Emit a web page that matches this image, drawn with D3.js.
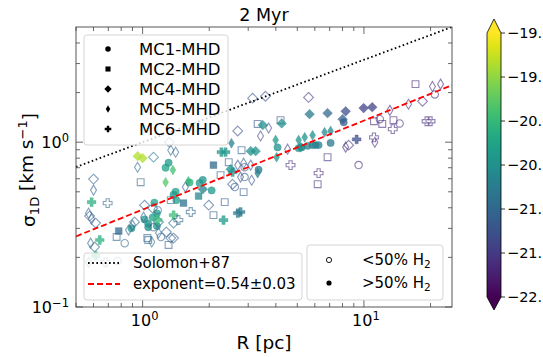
<!DOCTYPE html>
<html>
<head>
<meta charset="utf-8">
<script src="https://cdn.jsdelivr.net/npm/d3@7"></script>
<style>
  body { margin: 0; background: #fff; }
  svg { display: block; font-family: "DejaVu Sans", sans-serif; }
</style>
</head>
<body>
<script>
// [R (pc), sigma_1D (km/s), log density, >50% H2 (1) or not (0)]
const mc1 = [
  [1.27, 0.70, -20.3, 1], [1.31, 0.75, -20.4, 1], [1.41, 0.50, -20.3, 1], [1.38, 0.48, -20.4, 1],
  [1.42, 0.445, -20.3, 1], [1.87, 0.59, -20.5, 1], [1.81, 0.565, -20.4, 1], [2.05, 0.51, -20.4, 1],
  [1.63, 0.57, -20.1, 1], [1.13, 0.43, -20.3, 1], [1.16, 0.37, -20.3, 1], [0.89, 0.30, -20.4, 1],
  [1.02, 0.34, -20.4, 1], [1.06, 0.32, -20.5, 1], [1.11, 0.35, -20.3, 1], [1.16, 0.31, -20.4, 1],
  [1.06, 0.305, -20.5, 1], [3.34, 0.68, -20.8, 1], [8.10, 1.32, -21.1, 1], [4.07, 0.93, -20.5, 1],
  [5.07, 0.92, -20.5, 1], [5.23, 0.93, -20.6, 1], [5.57, 0.95, -20.7, 1], [5.86, 0.96, -20.7, 1],
  [6.05, 0.96, -20.7, 1], [6.24, 0.96, -20.7, 1], [7.07, 0.99, -20.8, 1],
  [0.83, 0.244, -21.0, 0], [1.17, 0.387, -21.0, 0], [1.12, 0.305, -21.0, 0], [1.21, 0.266, -21.1, 0],
  [2.89, 0.705, -21.2, 0], [2.89, 0.614, -21.2, 0], [2.61, 0.534, -21.1, 0], [9.46, 0.726, -21.6, 0],
  [11.8, 1.38, -21.6, 0], [14.5, 1.30, -21.6, 0], [20.9, 1.95, -21.6, 0], [0.77, 0.19, -20.9, 0]
];
const mc2 = [
  [2.09, 0.726, -21.0, 1], [1.53, 0.427, -20.9, 1], [0.78, 0.289, -21.0, 1], [1.79, 0.471, -20.6, 1],
  [0.98, 0.572, -21.0, 0], [0.763, 0.266, -21.0, 0], [1.06, 0.255, -21.0, 0], [1.31, 0.238, -21.1, 0],
  [2.45, 0.756, -21.1, 0], [2.80, 0.894, -21.1, 0], [2.25, 0.631, -21.1, 0], [2.86, 0.498, -21.1, 0],
  [2.35, 0.433, -21.1, 0], [2.09, 0.361, -21.1, 0], [3.31, 1.29, -21.2, 0], [4.20, 1.36, -21.2, 0],
  [6.85, 0.811, -21.5, 0], [6.18, 0.556, -21.5, 0], [11.1, 1.34, -21.6, 0], [12.1, 1.29, -21.6, 0],
  [13.6, 1.36, -21.6, 0], [17.1, 2.25, -21.6, 0], [1.34, 0.445, -21.0, 0], [1.05, 0.262, -21.0, 0]
];
const mc4 = [
  [0.95, 0.823, -19.35, 1], [1.0, 0.80, -19.35, 1], [2.50, 0.686, -20.5, 1], [1.87, 0.519, -20.7, 1],
  [3.08, 0.882, -20.5, 1], [3.24, 0.882, -20.5, 1], [3.49, 1.27, -20.5, 1], [4.25, 1.30, -20.5, 1],
  [5.18, 0.933, -20.5, 1], [5.68, 1.48, -20.8, 1], [6.85, 1.50, -21.0, 1], [8.27, 1.54, -21.3, 1],
  [8.01, 1.38, -21.1, 1], [9.97, 1.61, -21.4, 1], [10.9, 1.63, -21.4, 1],
  [1.12, 0.811, -20.8, 0], [1.32, 1.0, -21.0, 0], [0.60, 0.597, -21.1, 0], [0.576, 0.356, -21.1, 0],
  [0.613, 0.323, -21.1, 0], [1.02, 0.415, -21.0, 0], [1.11, 0.398, -21.0, 0], [0.92, 0.328, -21.0, 0],
  [1.18, 0.328, -21.0, 0], [1.28, 0.285, -21.0, 0], [1.38, 0.262, -21.1, 0], [1.38, 0.323, -21.0, 0],
  [1.99, 0.415, -21.1, 0], [2.55, 0.556, -21.1, 0], [2.69, 1.17, -21.3, 0], [3.14, 1.85, -21.2, 0],
  [3.59, 1.90, -21.3, 0], [5.62, 1.87, -21.5, 0], [8.53, 0.959, -21.6, 0], [18.4, 1.77, -21.6, 0],
  [1.34, 0.262, -21.0, 0], [0.607, 0.231, -21.0, 0]
];
const mc5 = [
  [1.27, 0.572, -19.8, 1], [1.37, 0.677, -19.9, 1], [1.61, 0.58, -20.0, 1], [2.52, 0.986, -20.7, 1],
  [3.31, 0.649, -20.7, 1], [3.99, 1.03, -20.4, 1], [4.03, 0.811, -20.4, 1], [5.07, 1.03, -20.5, 1],
  [5.40, 1.07, -20.5, 1], [5.86, 1.10, -20.5, 1], [6.64, 1.15, -20.6, 1], [7.07, 1.17, -20.6, 1],
  [0.949, 0.705, -21.0, 0], [1.34, 0.894, -21.0, 0], [1.41, 0.870, -21.0, 0], [0.60, 0.512, -21.1, 0],
  [0.570, 0.371, -21.1, 0], [0.588, 0.342, -21.1, 0], [0.864, 0.293, -21.0, 0], [0.90, 0.314, -21.0, 0],
  [1.01, 0.351, -21.0, 0], [1.18, 0.281, -21.0, 0], [1.10, 0.248, -21.0, 0], [0.582, 0.244, -21.0, 0],
  [1.56, 0.534, -21.1, 0], [2.69, 0.726, -21.2, 0], [2.86, 0.746, -21.2, 0], [3.08, 0.726, -21.2, 0],
  [2.77, 0.614, -21.2, 0], [3.11, 0.588, -21.2, 0], [3.41, 1.09, -21.4, 0], [3.71, 1.22, -21.4, 0],
  [4.52, 0.907, -21.5, 0], [8.27, 0.933, -21.6, 0], [11.2, 1.0, -21.6, 0], [13.1, 1.56, -21.6, 0],
  [15.9, 1.70, -21.6, 0], [20.4, 2.18, -21.6, 0], [22.2, 2.25, -21.6, 0], [0.570, 0.187, -20.9, 0]
];
const mc6 = [
  [0.588, 0.433, -20.1, 1], [0.64, 0.255, -20.1, 1], [1.38, 0.361, -19.95, 1], [1.17, 0.337, -20.0, 1],
  [2.27, 0.870, -20.4, 1], [2.37, 0.870, -20.4, 1], [2.55, 0.658, -20.5, 1], [2.69, 0.371, -20.8, 1],
  [2.77, 0.377, -20.8, 1], [2.32, 0.337, -20.4, 1], [9.27, 1.04, -21.3, 1], [0.613, 0.204, -20.0, 1],
  [0.695, 0.427, -21.0, 0], [1.65, 0.377, -21.0, 0], [1.45, 0.337, -21.0, 0], [4.66, 0.726, -21.6, 0],
  [6.24, 0.649, -21.6, 0], [11.1, 1.07, -21.6, 0], [13.5, 1.20, -21.6, 0], [19.2, 1.34, -21.6, 0],
  [20.0, 1.34, -21.6, 0], [0.68, 0.187, -21.0, 0]
];

const clouds = [
  { name: "MC1-MHD", shape: "o", points: mc1 },
  { name: "MC2-MHD", shape: "s", points: mc2 },
  { name: "MC4-MHD", shape: "D", points: mc4 },
  { name: "MC5-MHD", shape: "d", points: mc5 },
  { name: "MC6-MHD", shape: "P", points: mc6 },
];

// power laws sigma = coef * R^exp
const solomon = { coef: 1.0, exp: 0.5 };
const fit = { coef: 0.39, exp: 0.54 };

const xDomain = [0.5, 25], yDomain = [0.1, 5], cDomain = [-22, -19];
const xMajor = [1, 10], xMinor = [0.5, 0.6, 0.7, 0.8, 0.9, 2, 3, 4, 5, 6, 7, 8, 9, 20];
const yMajor = [0.1, 1], yMinor = [0.2, 0.3, 0.4, 0.5, 0.6, 0.7, 0.8, 0.9, 2, 3, 4];
const cTicks = [-22, -21.5, -21, -20.5, -20, -19.5, -19];

const baseWidth = 543, baseHeight = 357;
const plot = { left: 76, right: 452, top: 27, bottom: 307 };

const x = d3.scaleLog().domain(xDomain).range([plot.left, plot.right]);
const y = d3.scaleLog().domain(yDomain).range([plot.bottom, plot.top]);
const color = d3.scaleSequential(d3.interpolateViridis).domain(cDomain);

const svg = d3.select("body").append("svg")
  .attr("width", baseWidth).attr("height", baseHeight);

svg.append("defs").append("clipPath").attr("id", "clip")
  .append("rect")
  .attr("x", plot.left).attr("y", plot.top)
  .attr("width", plot.right - plot.left).attr("height", plot.bottom - plot.top);

function shape(type, k) {
  k = k || 1;
  const p = d3.path();
  if (type === "o") {
    const r = 3.7 * k;
    p.moveTo(r, 0); p.arc(0, 0, r, 0, 2 * Math.PI);
  } else if (type === "s") {
    const h = 3.4 * k;
    p.rect(-h, -h, 2 * h, 2 * h);
  } else if (type === "D") {
    const r = 4.9 * k;
    p.moveTo(0, -r); p.lineTo(r, 0); p.lineTo(0, r); p.lineTo(-r, 0); p.closePath();
  } else if (type === "d") {
    const r = 5 * k, w = r * 0.6;
    p.moveTo(0, -r); p.lineTo(w, 0); p.lineTo(0, r); p.lineTo(-w, 0); p.closePath();
  } else if (type === "P") {
    const a = 4.4 * k, b = 1.6 * k;
    p.moveTo(-b, -a); p.lineTo(b, -a); p.lineTo(b, -b); p.lineTo(a, -b); p.lineTo(a, b);
    p.lineTo(b, b); p.lineTo(b, a); p.lineTo(-b, a); p.lineTo(-b, b); p.lineTo(-a, b);
    p.lineTo(-a, -b); p.lineTo(-b, -b); p.closePath();
  }
  return p.toString();
}

// scatter points
const pts = svg.append("g").attr("clip-path", "url(#clip)");
clouds.forEach((c) => {
  pts.selectAll(null).data(c.points).enter()
    .append("path")
    .attr("d", shape(c.shape))
    .attr("transform", (d) => `translate(${x(d[0])},${y(d[1])})`)
    .attr("fill", (d) => (d[3] ? color(d[2]) : "none"))
    .attr("fill-opacity", 0.75)
    .attr("stroke", (d) => color(d[2]))
    .attr("stroke-opacity", (d) => (d[3] ? 0.5 : 0.6))
    .attr("stroke-width", (d) => (d[3] ? 0.6 : 1.1));
});

// power-law lines
function lawLine(law) {
  return xDomain.map((r) => [x(r), y(law.coef * Math.pow(r, law.exp))]);
}
pts.append("path")
  .attr("d", d3.line()(lawLine(solomon)))
  .attr("fill", "none").attr("stroke", "#000").attr("stroke-width", 1.8)
  .attr("stroke-dasharray", "1.6,2.6");
pts.append("path")
  .attr("d", d3.line()(lawLine(fit)))
  .attr("fill", "none").attr("stroke", "#ff0000").attr("stroke-width", 1.8)
  .attr("stroke-dasharray", "6,3");

// frame and ticks (inward on all four sides)
svg.append("rect")
  .attr("x", plot.left).attr("y", plot.top)
  .attr("width", plot.right - plot.left).attr("height", plot.bottom - plot.top)
  .attr("fill", "none").attr("stroke", "#444").attr("stroke-width", 0.9);

const ticks = svg.append("g").attr("stroke", "#444").attr("stroke-width", 0.8);
function xTicks(vals, len) {
  vals.forEach((v) => {
    ticks.append("line").attr("x1", x(v)).attr("x2", x(v)).attr("y1", plot.bottom).attr("y2", plot.bottom - len);
    ticks.append("line").attr("x1", x(v)).attr("x2", x(v)).attr("y1", plot.top).attr("y2", plot.top + len);
  });
}
function yTicks(vals, len) {
  vals.forEach((v) => {
    ticks.append("line").attr("y1", y(v)).attr("y2", y(v)).attr("x1", plot.left).attr("x2", plot.left + len);
    ticks.append("line").attr("y1", y(v)).attr("y2", y(v)).attr("x1", plot.right).attr("x2", plot.right - len);
  });
}
xTicks(xMajor, 7); xTicks(xMinor, 4);
yTicks(yMajor, 7); yTicks(yMinor, 4);

function powLabel(sel, v) {
  const e = Math.round(Math.log10(v));
  sel.append("tspan").text("10");
  sel.append("tspan").attr("dy", "-0.55em").style("font-size", "11.5px")
    .text(String(e).replace("-", "\u2212"));
}
xMajor.forEach((v) => {
  svg.append("text").attr("x", x(v) + 2).attr("y", 326).attr("text-anchor", "middle")
    .style("font-size", "16px").call(powLabel, v);
});
yMajor.forEach((v) => {
  svg.append("text").attr("x", 69).attr("y", y(v) + 6).attr("text-anchor", "end")
    .style("font-size", "16px").call(powLabel, v);
});

// titles
svg.append("text").attr("x", (plot.left + plot.right) / 2).attr("y", 21)
  .attr("text-anchor", "middle").style("font-size", "17.5px").text("2 Myr");
svg.append("text").attr("x", (plot.left + plot.right) / 2).attr("y", 349)
  .attr("text-anchor", "middle").style("font-size", "18.5px").text("R [pc]");
const yl = svg.append("text")
  .attr("transform", `translate(35,${(plot.top + plot.bottom) / 2 + 3}) rotate(-90)`)
  .attr("text-anchor", "middle").style("font-size", "18.5px");
yl.append("tspan").text("\u03c3");
yl.append("tspan").attr("dy", "0.3em").style("font-size", "13px").text("1D");
yl.append("tspan").attr("dy", "-0.3em").text(" [km s");
yl.append("tspan").attr("dy", "-0.5em").style("font-size", "13px").text("\u22121");
yl.append("tspan").attr("dy", "0.5em").text("]");

// legends
function legendBox(x0, y0, w, h) {
  svg.append("rect").attr("x", x0).attr("y", y0).attr("width", w).attr("height", h)
    .attr("rx", 3).attr("fill", "#fff").attr("fill-opacity", 0.8)
    .attr("stroke", "#d0d0d0").attr("stroke-width", 0.9);
}

legendBox(84, 35, 144, 110);
clouds.forEach((c, i) => {
  const yy = 49 + i * 20;
  svg.append("path").attr("d", shape(c.shape, 0.75))
    .attr("transform", `translate(108,${yy})`).attr("fill", "#000");
  svg.append("text").attr("x", 139).attr("y", yy + 6).style("font-size", "16.5px").text(c.name);
});

legendBox(84, 253, 218, 47);
svg.append("line").attr("x1", 88).attr("x2", 120).attr("y1", 263).attr("y2", 263)
  .attr("stroke", "#000").attr("stroke-width", 1.8).attr("stroke-dasharray", "1.6,2.6");
svg.append("line").attr("x1", 88).attr("x2", 120).attr("y1", 284).attr("y2", 284)
  .attr("stroke", "#ff0000").attr("stroke-width", 1.8).attr("stroke-dasharray", "6,3");
svg.append("text").attr("x", 133).attr("y", 268).style("font-size", "15px").text("Solomon+87");
svg.append("text").attr("x", 133).attr("y", 289).style("font-size", "15px").text("exponent=0.54\u00b10.03");

legendBox(307, 245, 136, 55);
svg.append("path").attr("d", shape("o", 0.7)).attr("transform", "translate(329,260)")
  .attr("fill", "none").attr("stroke", "#000").attr("stroke-width", 0.9);
svg.append("path").attr("d", shape("o", 0.7)).attr("transform", "translate(329,283)")
  .attr("fill", "#000");
["<50% H", ">50% H"].forEach((t, i) => {
  const tx = svg.append("text").attr("x", 362).attr("y", 265 + i * 23).style("font-size", "15px");
  tx.append("tspan").text(t);
  tx.append("tspan").attr("dy", "0.3em").style("font-size", "10.5px").text("2");
});

// colorbar (labels run past the right edge, as in the original figure)
const cb = { x: 487, w: 14, top: 33, bottom: 297 };
const cy = d3.scaleLinear().domain(cDomain).range([cb.bottom, cb.top]);
const grad = svg.select("defs").append("linearGradient").attr("id", "cgrad")
  .attr("x1", 0).attr("y1", 1).attr("x2", 0).attr("y2", 0);
d3.range(0, 1.0001, 0.05).forEach((t) => {
  grad.append("stop").attr("offset", t).attr("stop-color", d3.interpolateViridis(t));
});
svg.append("rect").attr("x", cb.x).attr("y", cb.top).attr("width", cb.w)
  .attr("height", cb.bottom - cb.top).attr("fill", "url(#cgrad)");
svg.append("path")
  .attr("d", `M${cb.x},${cb.top}L${cb.x + cb.w / 2},19L${cb.x + cb.w},${cb.top}Z`)
  .attr("fill", color(cDomain[1]));
svg.append("path")
  .attr("d", `M${cb.x},${cb.bottom}L${cb.x + cb.w / 2},310L${cb.x + cb.w},${cb.bottom}Z`)
  .attr("fill", color(cDomain[0]));
svg.append("path")
  .attr("d", `M${cb.x},${cb.top}L${cb.x + cb.w / 2},19L${cb.x + cb.w},${cb.top}L${cb.x + cb.w},${cb.bottom}L${cb.x + cb.w / 2},310L${cb.x},${cb.bottom}Z`)
  .attr("fill", "none").attr("stroke", "#000").attr("stroke-width", 0.8);
const fmt = d3.format(".1f");
cTicks.forEach((v) => {
  svg.append("line").attr("x1", cb.x + cb.w).attr("x2", cb.x + cb.w + 4)
    .attr("y1", cy(v)).attr("y2", cy(v)).attr("stroke", "#000").attr("stroke-width", 0.8);
  svg.append("text").attr("x", 507).attr("y", cy(v) + 5).style("font-size", "14.5px")
    .text(fmt(v).replace("-", "\u2212"));
});
</script>
</body>
</html>
